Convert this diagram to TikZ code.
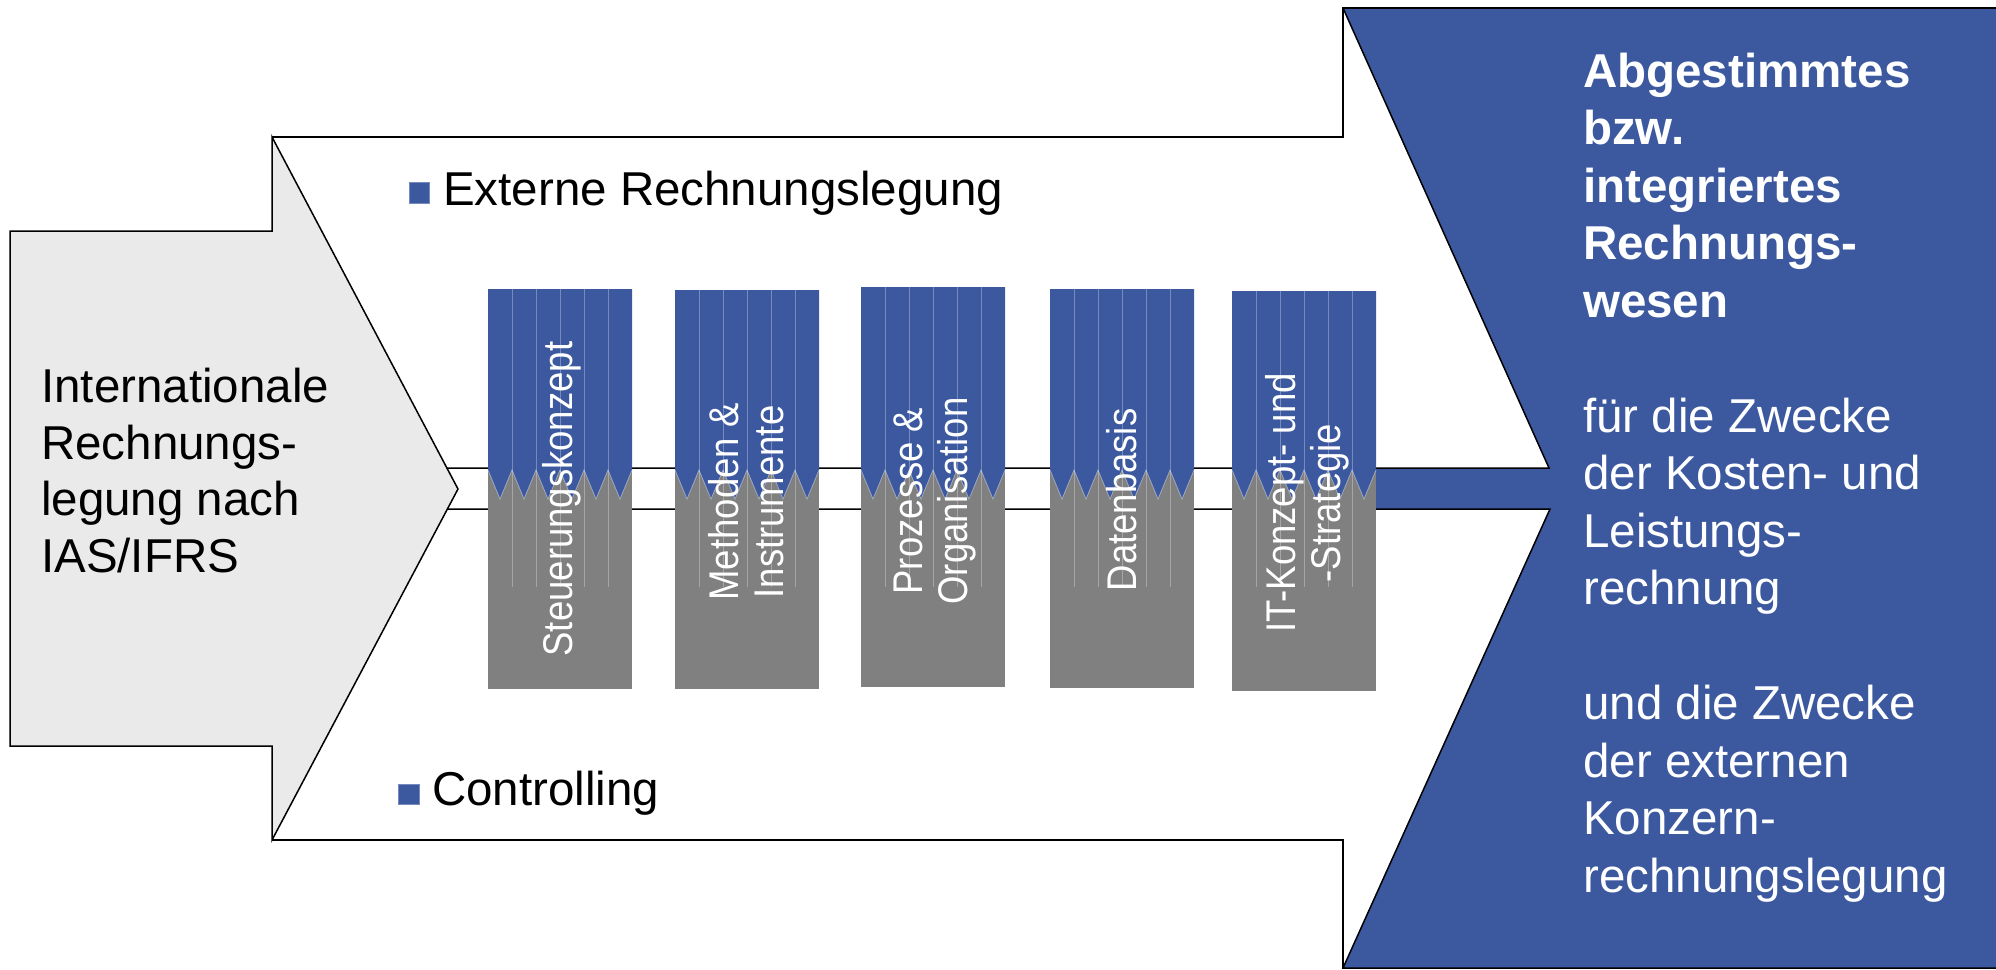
\documentclass[tikz,border=0pt]{standalone}
\usepackage{fontspec}
\setmainfont{Liberation Sans}
\newfontfamily\colfont[FakeStretch=0.88]{Liberation Sans}
\definecolor{myblue}{RGB}{60,89,160}
\definecolor{colgray}{RGB}{128,128,128}
\definecolor{arrowgray}{RGB}{234,234,234}
\tikzset{
  outline/.style={draw=black, line width=1.5pt},
  maintext/.style={inner sep=0pt, anchor=base west, font=\fontsize{47.5}{57}\selectfont},
  coltext/.style={text=white, rotate=90, align=center, inner sep=0pt,
    font=\colfont\fontsize{41.5}{45}\selectfont},
  bulletsq/.style={fill=myblue, draw=myblue!70!white, line width=0.5pt},
  stripline/.style={draw=white, draw opacity=0.3, line width=0.8pt},
}
\begin{document}
\begin{tikzpicture}[x=1pt,y=-1pt]
\useasboundingbox (0,0) rectangle (1996,969);

% grey input arrow
\filldraw[fill=arrowgray, outline]
  (10,231) -- (272,231) -- (272,137) -- (458,489) -- (272,840) -- (272,746) -- (10,746) -- cycle;

% blue output shape
\fill[myblue] (1343,8) -- (1996,8) -- (1996,968) -- (1343,968) -- (1550,509)
  -- (1376,509) -- (1376,468) -- (1549,468) -- cycle;

% outline of the big white arrow and band
\draw[outline] (272,137) -- (1343,137) -- (1343,8) -- (1996,8);
\draw[outline] (1343,8) -- (1549,468) -- (447,468);
\draw[outline] (447,509) -- (1550,509) -- (1343,968) -- (1996,968);
\draw[outline] (272,840) -- (1343,840) -- (1343,968);

% columns
\foreach \L/\T/\B in {488/289/689, 675/290/689, 861/287/687, 1050/289/688, 1232/291/691}{
  \fill[colgray] (\L,469) rectangle (\L+144,\B);
  \fill[myblue] (\L,\T) -- (\L+144,\T) -- (\L+144,470)
    -- (\L+132,499) -- (\L+120,470) -- (\L+108,499) -- (\L+96,470)
    -- (\L+84,499) -- (\L+72,470) -- (\L+60,499) -- (\L+48,470)
    -- (\L+36,499) -- (\L+24,470) -- (\L+12,499) -- (\L,470) -- cycle;
  \draw[draw=white, draw opacity=0.45, line width=0.7pt] (\L+144,470)
    -- (\L+132,499) -- (\L+120,470) -- (\L+108,499) -- (\L+96,470)
    -- (\L+84,499) -- (\L+72,470) -- (\L+60,499) -- (\L+48,470)
    -- (\L+36,499) -- (\L+24,470) -- (\L+12,499) -- (\L,470);
  \foreach \i in {1,...,5}{
    \draw[stripline] (\L+24*\i,\T) -- (\L+24*\i,587);
  }
}

% column labels
\node[coltext] (c1) at (562,499) {Steuerungskonzept};
\node[coltext] (c2) at (746,502) {Methoden \&\\Instrumente};
\node[coltext] (c3) at (935,501) {Prozesse \&\\Organisation};
\node[coltext] (c4) at (1122,500) {Datenbasis};
\node[coltext] (c5) at (1307,503) {IT-Konzept- und\\-Strategie};

% bullets and labels
\path[bulletsq] (409,182) rectangle (429,203);
\node[maintext] (ext) at (443,205) {Externe Rechnungslegung};
\path[bulletsq] (398,784) rectangle (419,804);
\node[maintext] (ctrl) at (432,805) {Controlling};

% left text
\node[maintext] (l1) at (41,402) {Internationale};
\node[maintext] (l2) at (41,459) {Rechnungs-};
\node[maintext] (l3) at (41,515) {legung nach};
\node[maintext] (l4) at (41,572) {IAS/IFRS};

% right text
\foreach \k/\t in {0/Abgestimmtes, 1/bzw., 2/integriertes, 3/Rechnungs-, 4/wesen}{
  \node[maintext, text=white, font=\fontsize{47.5}{57}\selectfont\bfseries] (r\k) at (1583,87+57.5*\k) {\t};
}
\foreach \k/\t in {6/für die Zwecke, 7/der Kosten- und, 8/Leistungs-, 9/rechnung,
  11/und die Zwecke, 12/der externen, 13/Konzern-, 14/rechnungslegung}{
  \node[maintext, text=white] (r\k) at (1583,87+57.5*\k) {\t};
}
\end{tikzpicture}
\end{document}
